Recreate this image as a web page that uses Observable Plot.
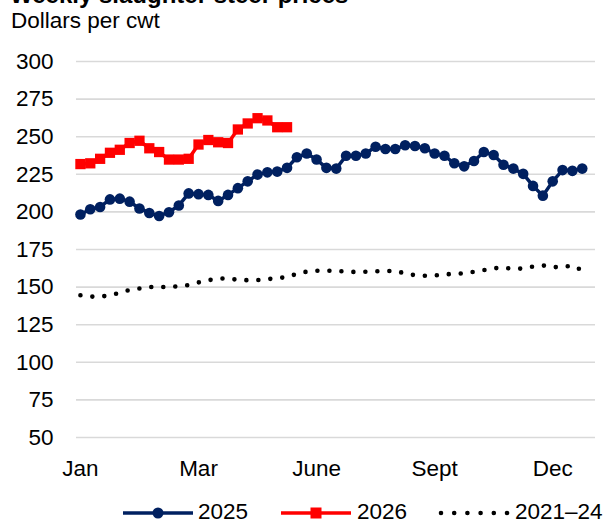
<!DOCTYPE html>
<html>
<head>
<meta charset="utf-8">
<script src="https://cdn.jsdelivr.net/npm/d3@7"></script>
<script src="https://cdn.jsdelivr.net/npm/@observablehq/plot@0.6"></script>
<style>
  html, body { margin: 0; padding: 0; background: #fff; }
  body { width: 608px; height: 521px; overflow: hidden; position: relative;
         font-family: "Liberation Sans", Arial, sans-serif; color: #000; }
  #title { position: absolute; left: 10px; top: -17px; font-size: 24px; line-height: 24px; font-weight: bold; white-space: nowrap; }
  #subtitle { position: absolute; left: 11px; top: 10px; font-size: 22.5px; line-height: 22.5px; white-space: nowrap; }
  #chart { position: absolute; left: 0; top: 40px; }
  #legend { position: absolute; left: 0; top: 499px; width: 608px; height: 26px; font-size: 22.5px; line-height: 26px; }
  #legend .sw { position: absolute; top: 1px; }
  #legend .lt { position: absolute; top: 0; white-space: nowrap; }
</style>
</head>
<body>
<div id="title">Weekly slaughter steer prices</div>
<div id="subtitle">Dollars per cwt</div>
<div id="chart"></div>
<div id="legend"></div>
<script>
// Week index (category) for each weekly observation
const weeks = [1,2,3,4,5,6,7,8,9,10,11,12,13,14,15,16,17,18,19,20,21,22,23,24,25,26,
               27,28,29,30,31,32,33,34,35,36,37,38,39,40,41,42,43,44,45,46,47,48,49,50,51,52];

// Series values, dollars per cwt
const values2025 = [198.3,201.8,203.3,208.3,208.8,206.8,202.3,199.3,197.3,199.8,204.3,212.3,211.8,
                    211.3,207.3,211.3,215.8,220.3,224.8,226.3,226.8,229.3,236.3,238.8,234.8,229.3,
                    228.8,237.3,237.3,238.8,243.3,241.8,241.8,244.3,243.8,242.3,238.8,237.3,232.3,
                    230.3,233.8,239.8,237.8,231.3,228.8,225.3,217.3,210.8,220.3,227.8,227.3,228.8];
const values2026 = [231.8,232.3,235.3,239.3,241.3,245.8,247.3,242.3,239.8,234.8,234.8,235.3,244.8,
                    247.8,246.3,245.8,254.8,258.8,262.3,260.8,256.3,256.3];
const values2124 = [144.6,143.7,143.6,144.6,146.1,148.1,149.1,150.1,150.1,150.1,150.5,151.4,153.1,
                    154.6,155.6,155.8,154.8,154.6,154.7,155.3,155.9,156.7,158.8,160.3,160.9,160.9,
                    160.7,160.4,160,160.2,160.5,160.7,160.8,159.1,157.9,157.5,157.7,158.6,158.6,
                    159.3,160.2,161.3,162.5,163,162.1,162.4,163.7,164.4,163.3,163.3,164.4,161.1];

// Axis ticks
const yTicks = [50,75,100,125,150,175,200,225,250,275,300];
const xTickWeeks = [1,13,25,37,49];
const xTickLabels = ["Jan","Mar","June","Sept","Dec"];

// Series names and colours
const seriesNames = ["2025","2026","2021–24"];
const colors = { "2025": "#002060", "2026": "#ff0000", "2021–24": "#000000" };

const d2025 = values2025.map((v, i) => ({ week: weeks[i], value: v }));
const d2026 = values2026.map((v, i) => ({ week: weeks[i], value: v }));
const d2124 = values2124.map((v, i) => ({ week: weeks[i], value: v }));
const labelMap = new Map(xTickWeeks.map((w, i) => [w, xTickLabels[i]]));

const chart = Plot.plot({
  width: 608,
  height: 460,
  marginTop: 21,
  marginBottom: 63,
  marginLeft: 76,
  marginRight: 13,
  style: { fontFamily: "'Liberation Sans', Arial, sans-serif", fontSize: "22.5px", color: "#000", background: "#fff", overflow: "visible" },
  x: { type: "linear", domain: [0.6, 53.35] },
  y: { domain: [50, 300] },
  marks: [
    Plot.gridY(yTicks, { stroke: "#d9d9d9", strokeOpacity: 1, strokeWidth: 1.6 }),
    Plot.axisY(yTicks, { tickSize: 0, tickPadding: 23, label: null, fontSize: 22.5 }),
    Plot.axisX(xTickWeeks, { tickSize: 0, tickPadding: 23, label: null, fontSize: 22.5, tickFormat: d => labelMap.get(d) }),
    Plot.line(d2124, { x: "week", y: "value", stroke: colors["2021–24"], strokeWidth: 4.6,
                       strokeDasharray: "0 12", strokeLinecap: "round", curve: "linear" }),
    Plot.line(d2025, { x: "week", y: "value", stroke: colors["2025"], strokeWidth: 3.5 }),
    Plot.dot(d2025, { x: "week", y: "value", r: 5.3, fill: colors["2025"], stroke: "none", symbol: "circle" }),
    Plot.line(d2026, { x: "week", y: "value", stroke: colors["2026"], strokeWidth: 3.5 }),
    Plot.dot(d2026, { x: "week", y: "value", r: 5.8, fill: colors["2026"], stroke: "none", symbol: "square" })
  ]
});
document.getElementById("chart").appendChild(chart);

// Legend
const legend = document.getElementById("legend");
const lg = [
  { name: seriesNames[0], swX: 122, txX: 198, kind: "circle" },
  { name: seriesNames[1], swX: 280, txX: 357, kind: "square" },
  { name: seriesNames[2], swX: 438, txX: 515, kind: "dots" }
];
lg.forEach(item => {
  const c = colors[item.name];
  let inner;
  if (item.kind === "circle") {
    inner = `<line x1="1" y1="13" x2="71" y2="13" stroke="${c}" stroke-width="3.5"/><circle cx="36" cy="13" r="5.5" fill="${c}"/>`;
  } else if (item.kind === "square") {
    inner = `<line x1="1" y1="13" x2="71" y2="13" stroke="${c}" stroke-width="3.5"/><rect x="30.5" y="7.5" width="11" height="11" fill="${c}"/>`;
  } else {
    inner = `<line x1="3" y1="13" x2="70" y2="13" stroke="${c}" stroke-width="4.6" stroke-dasharray="0 13.2" stroke-linecap="round"/>`;
  }
  legend.insertAdjacentHTML("beforeend",
    `<svg class="sw" style="left:${item.swX}px" width="72" height="26">${inner}</svg><span class="lt" style="left:${item.txX}px">${item.name}</span>`);
});
</script>
</body>
</html>
